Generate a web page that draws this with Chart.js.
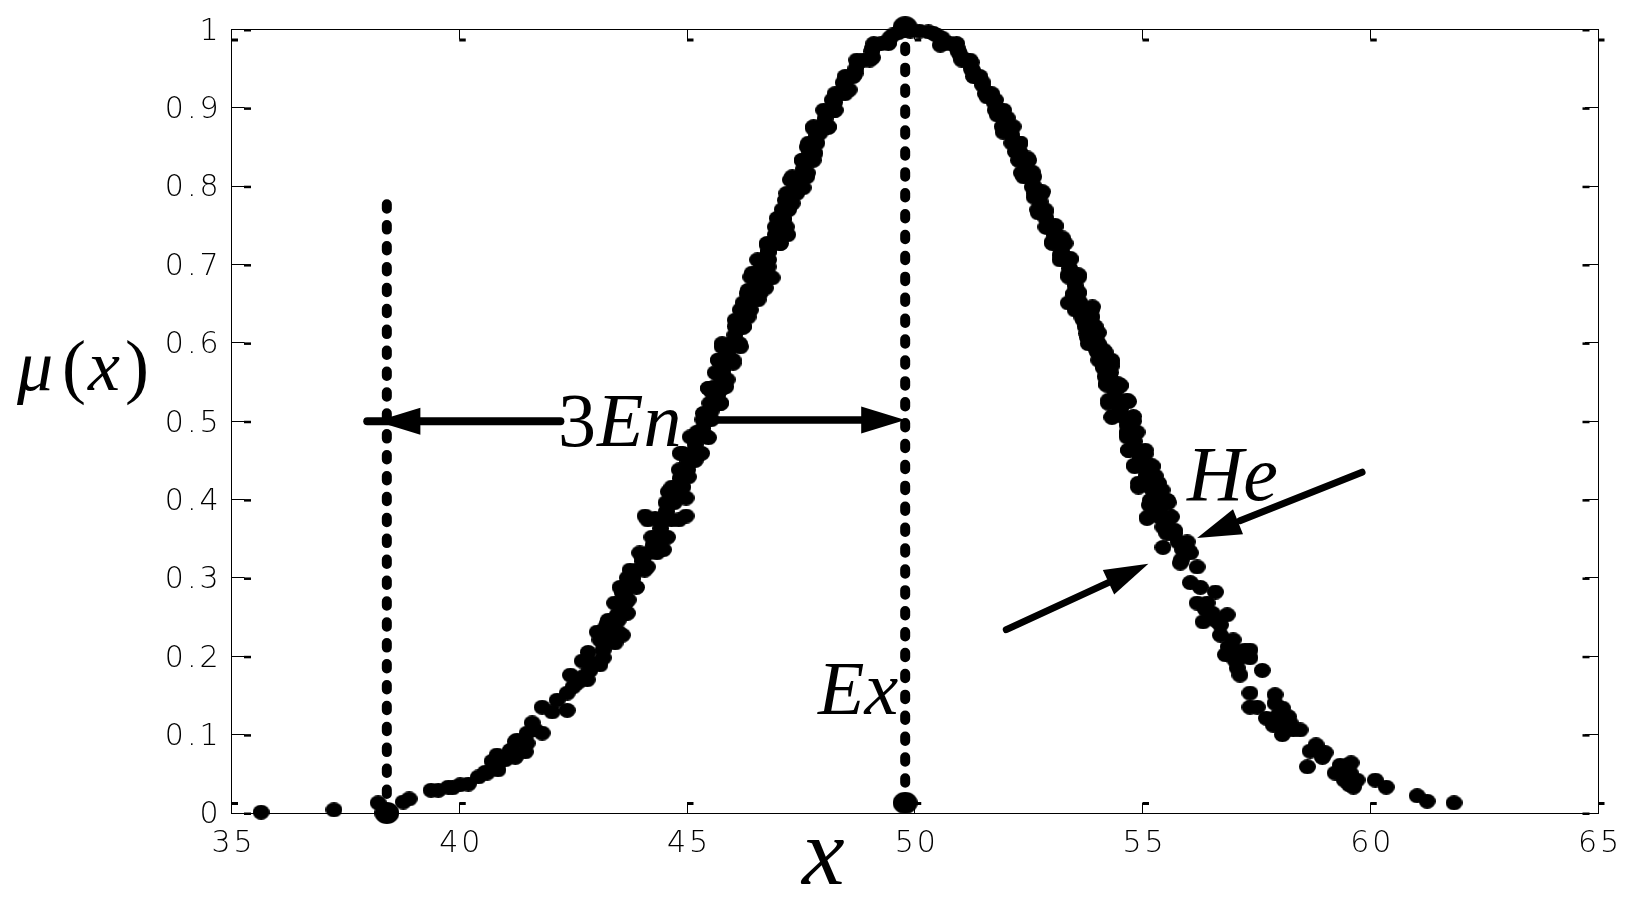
<!DOCTYPE html>
<html lang="en">
<head>
  <meta charset="UTF-8" />
  <title>Cloud model membership curve</title>
  <script src="https://cdn.jsdelivr.net/npm/chart.js"></script>
  <style>
    body { margin: 0; padding: 0; background: #fff; }
    canvas { display: block; }
  </style>
</head>
<body>
  <canvas id="cloudChart" width="1648" height="901"></canvas>

  <script>
    const xTickLabels = ['35', '40', '45', '50', '55', '60', '65'];
    const yTickLabels = ['0', '0.1', '0.2', '0.3', '0.4', '0.5', '0.6', '0.7', '0.8', '0.9', '1'];
    const xTickValues = [35, 40, 45, 50, 55, 60, 65];
    const yTickValues = [0, 0.1, 0.2, 0.3, 0.4, 0.5, 0.6, 0.7, 0.8, 0.9, 1];

    // cloud drops, left tail to right tail
    const lowerLeftDrops = [
      [35.65,.001],[37.25,.004],[38.22,.013],[38.77,.014],[38.90,.018],[39.38,.029],[39.54,.029],[39.76,.033],
      [39.85,.032],[40.02,.036],[40.20,.037],[40.42,.046],[40.57,.052],[40.72,.066],[40.83,.074],[40.85,.055],
      [41.01,.068],[41.12,.080],[41.27,.093],[41.45,.078],[41.23,.071],[41.23,.091],[41.49,.102],[41.60,.115],
      [41.82,.102],[41.82,.135],[42.04,.129],[42.37,.131],[42.15,.144],[42.37,.153],[42.44,.176],[42.81,.170],
      [42.70,.194],[42.83,.205],[43.09,.189],[43.16,.198],[43.03,.231],[43.25,.242],[43.58,.227],[43.42,.217],
      [43.16,.217],[43.31,.221],[43.47,.253],[43.69,.255],[43.58,.268],[43.71,.272],
      [43.60,.263],[43.49,.246],[43.27,.230],[43.16,.208],[42.94,.191],[42.72,.174],[42.50,.161],[41.67,.106],
      [41.49,.089],[41.18,.077],[40.85,.064],[40.61,.051],[43.09,.221],[43.36,.240],[42.87,.182],[42.61,.167],
      [43.49,.231],[43.20,.236]
    ];
    const midLeftDrops = [
      [43.27,.246],[43.58,.281],[43.69,.300],[44.02,.325],[44.08,.379],[44.59,.410],[44.85,.459],[45.22,.486],
      [45.36,.510],[45.55,.537],[45.77,.559],[43.64,.255],[44.13,.314],[44.48,.336],[44.57,.352],[44.98,.379],
      [44.98,.402],[45.03,.429],[45.18,.450],[45.47,.479],[45.73,.523],[45.88,.553],[43.53,.268],[43.91,.310],
      [44.37,.352],[44.63,.396],[44.92,.438],[45.25,.480],[45.62,.523],[45.79,.565],[43.71,.288],[44.15,.332],
      [44.48,.374],[44.79,.416],[45.11,.459],[45.44,.502],[45.73,.544],
      [43.62,.278],[43.81,.299],[44.03,.321],[44.26,.342],[44.42,.363],[44.55,.385],[44.71,.406],[44.85,.427],
      [45.02,.449],[45.18,.470],[45.35,.491],[45.53,.513],[45.68,.534],[45.76,.555],
      [43.41,.268],[43.65,.268],[43.53,.288],[43.89,.288],[43.75,.310],[44.07,.310],[43.96,.332],[44.34,.332],
      [44.23,.352],[44.51,.352],[44.14,.374],[44.82,.374],[44.54,.396],[44.72,.396],[44.67,.416],[44.91,.416],
      [44.83,.438],[45.01,.438],[44.90,.459],[45.32,.459],[45.07,.480],[45.43,.480],[45.35,.502],[45.53,.502],
      [45.50,.523],[45.74,.523],[45.61,.544],[45.85,.544],[44.30,.376],[44.66,.374]
    ];
    const upperLeftDrops = [
      [45.47,.542],[45.62,.562],[45.69,.578],[45.77,.595],[46.06,.629],[46.23,.651],[46.34,.667],[46.43,.689],
      [46.76,.725],[46.98,.759],[47.16,.782],[47.27,.808],[47.53,.833],[47.64,.850],[47.77,.874],[48.19,.910],
      [48.43,.932],[48.74,.957],[49.07,.976],[49.52,.993],[45.77,.542],[46.01,.574],[46.17,.595],[46.23,.620],
      [46.34,.633],[46.56,.655],[46.72,.670],[46.87,.683],[46.78,.697],[46.78,.716],[47.05,.727],[47.21,.738],
      [47.12,.757],[47.31,.778],[47.55,.798],[47.64,.817],[47.81,.842],[47.92,.868],[48.10,.875],[48.25,.897],
      [48.56,.923],[48.69,.944],[49.07,.964],[49.43,.984],[46.28,.642],[46.61,.693],[46.94,.738],[47.42,.808],
      [45.62,.542],[45.85,.578],[45.96,.599],[46.15,.621],[46.28,.642],[46.46,.663],[46.61,.684],[46.67,.706],
      [46.90,.727],[47.06,.748],[47.16,.770],[47.30,.791],[47.47,.812],[47.65,.833],[47.76,.855],[47.94,.876],
      [48.12,.897],[48.36,.918],[48.56,.940],[48.87,.961],[49.26,.982],[49.64,.996],
      [45.73,.560],[45.90,.588],[46.05,.610],[46.22,.632],[46.37,.652],[46.53,.673],[46.64,.695],[46.78,.716],
      [46.98,.737],[47.11,.759],[47.23,.780],[47.38,.801],[47.56,.822],[47.70,.844],[47.85,.865],[48.03,.886],
      [48.24,.907],[48.46,.929],[48.71,.950],[49.06,.972],[49.45,.989],[49.90,.998],[50.10,.998],
      [45.48,.542],[45.76,.542],[45.69,.578],[46.01,.578],[45.77,.599],[46.15,.599],[46.06,.621],[46.24,.621],
      [46.17,.642],[46.39,.642],[46.32,.663],[46.60,.663],[46.40,.684],[46.82,.684],[46.55,.706],[46.79,.706],
      [46.76,.727],[47.04,.727],[46.94,.748],[47.18,.748],[47.09,.770],[47.23,.770],[47.19,.791],[47.41,.791],
      [47.31,.812],[47.63,.812],[47.53,.833],[47.77,.833],[47.67,.855],[47.85,.855],[47.78,.876],[48.10,.876],
      [48.00,.897],[48.24,.897],[48.25,.918],[48.47,.918],[48.47,.940],[48.65,.940],[48.73,.961],[49.01,.961],
      [49.10,.982],[49.42,.982]
    ];
    const upperRightDrops = [
      [50.41,.995],[50.60,.989],[50.93,.976],[51.24,.958],[51.48,.933],[51.77,.910],[52.03,.887],[52.31,.855],
      [52.47,.836],[52.58,.818],[52.80,.793],[52.86,.767],[53.08,.750],[53.24,.734],[53.41,.708],[53.59,.687],
      [53.59,.665],[53.90,.646],[54.03,.613],[54.18,.588],[54.33,.574],[54.29,.562],[54.51,.546],[50.30,.997],
      [50.56,.980],[51.00,.967],[51.26,.948],[51.59,.914],[51.81,.891],[51.94,.869],[52.21,.844],[52.34,.817],
      [52.58,.799],[52.62,.786],[52.71,.766],[52.91,.747],[53.02,.729],[53.19,.712],[53.37,.687],[53.48,.661],
      [53.37,.651],[53.70,.636],[53.81,.606],[54.01,.588],[54.14,.568],[54.22,.546],
      [50.78,.982],[51.12,.961],[51.36,.940],[51.62,.918],[51.86,.897],[52.04,.876],[52.22,.855],[52.39,.833],
      [52.50,.812],[52.71,.791],[52.78,.770],[52.98,.748],[53.16,.727],[53.30,.706],[53.49,.684],[53.54,.663],
      [53.70,.642],[53.85,.621],[53.92,.599],[54.18,.578],[54.23,.557],
      [50.50,.992],[50.95,.972],[51.24,.950],[51.49,.929],[51.74,.907],[51.95,.886],[52.13,.865],[52.30,.844],
      [52.45,.822],[52.60,.801],[52.75,.780],[52.88,.759],[53.07,.737],[53.23,.716],[53.40,.695],[53.52,.673],
      [53.62,.652],[53.78,.631],[53.88,.610],[54.05,.588],[54.20,.567],
      [50.64,.982],[50.92,.982],[51.03,.961],[51.21,.961],[51.29,.940],[51.43,.940],[51.55,.918],[51.69,.918],
      [51.77,.897],[51.95,.897],[51.92,.876],[52.16,.876],[52.13,.855],[52.31,.855],[52.28,.833],[52.50,.833],
      [52.39,.812],[52.61,.812],[52.63,.791],[52.79,.791],[52.70,.770],[52.86,.770],[52.88,.748],[53.08,.748],
      [53.02,.727],[53.30,.727],[53.19,.706],[53.41,.706],[53.38,.684],[53.60,.684],[53.49,.663],[53.59,.663],
      [53.52,.642],[53.88,.642],[53.74,.621],[53.96,.621],[53.81,.599],[54.03,.599],[54.04,.578],[54.32,.578],
      [54.18,.557],[54.28,.557]
    ];
    const midRightDrops = [
      [53.70,.629],[53.79,.607],[54.25,.523],[54.33,.505],[54.66,.485],[54.69,.463],[54.82,.444],[54.91,.416],
      [55.15,.393],[55.10,.376],[55.45,.365],[55.45,.339],[55.85,.323],[54.51,.545],[54.69,.525],[54.80,.500],
      [54.88,.486],[55.06,.458],[55.21,.443],[55.28,.430],[55.43,.412],[55.56,.396],[55.63,.378],[55.70,.361],
      [55.98,.346],[56.05,.332],[56.20,.314],[54.36,.527],[54.66,.480],[54.95,.454],[55.17,.416],[55.39,.391],
      [55.61,.361],[54.51,.521],
      [53.78,.633],[53.89,.612],[54.07,.591],[54.23,.570],[54.33,.548],[54.46,.527],[54.57,.506],[54.75,.485],
      [54.88,.463],[55.02,.442],[55.13,.421],[55.36,.399],[55.37,.378],[55.62,.357],[55.94,.336],
      [53.83,.622],[53.98,.602],[54.15,.580],[54.28,.559],[54.40,.538],[54.52,.516],[54.66,.495],[54.82,.474],
      [54.95,.452],[55.08,.431],[55.25,.410],[55.37,.388],[55.50,.367],[55.78,.346],
      [53.67,.633],[53.89,.633],[53.78,.612],[54.00,.612],[54.00,.591],[54.14,.591],[54.15,.570],[54.31,.570],
      [54.20,.548],[54.46,.548],[54.26,.527],[54.66,.527],[54.34,.506],[54.80,.506],[54.66,.485],[54.84,.485],
      [54.70,.463],[55.06,.463],[54.83,.442],[55.21,.442],[54.91,.421],[55.35,.421],[55.17,.399],[55.55,.399],
      [55.12,.378],[55.62,.378],[55.53,.357],[55.71,.357],[55.88,.336],[56.00,.336]
    ];
    const lowerRightDrops = [
      [55.83,.319],[56.05,.294],[56.27,.288],[56.60,.282],[56.20,.268],[56.42,.268],[56.53,.255],[56.86,.253],
      [56.33,.244],[56.60,.246],[56.71,.227],[56.99,.221],[56.82,.202],[56.88,.212],[57.36,.208],[57.36,.198],
      [57.14,.198],[57.08,.185],[57.14,.176],[57.63,.182],[57.36,.153],[57.36,.135],[57.52,.135],[57.91,.151],
      [57.91,.140],[58.07,.134],[57.72,.121],[57.87,.112],[58.20,.123],[58.24,.115],[58.46,.106],[58.07,.100],
      [58.18,.108],[58.81,.087],[58.68,.079],[59.01,.077],[58.95,.071],[58.62,.059],[59.58,.064],[59.38,.057],
      [59.23,.051],[59.56,.051],[59.43,.042],[59.71,.042],[59.63,.033],[60.11,.042],[60.35,.033],[61.03,.022],
      [61.25,.015],[61.84,.013],
      [56.38,.260],[56.71,.240],[57.03,.208],[57.25,.208],[57.03,.195],[57.98,.125],[58.13,.119],[58.02,.112],
      [58.31,.106],[59.45,.048],[59.34,.061],[59.50,.061],[59.54,.036]
    ];
    const keyPoints = [[38.41,0],[49.79,1.003],[49.79,.013]];

    // dotted guides and arrow shafts
    const leftGuide = [[38.41,.777],[38.41,0]];
    const exGuide = [[49.79,.978],[49.79,.013]];
    const enShaftLeft = [[37.98,.5],[42.22,.5]];
    const enShaftRight = [[45.53,.5015],[49.0,.5015]];
    const heShaftUpper = [[59.82,.435],[57.14,.373]];
    const heShaftLower = [[52.01,.234],[54.25,.294]];
    // arrow heads: tail end of direction, then tip
    const arrowHeads = [
      [[42.22,.5],[38.18,.5]],
      [[45.53,.5015],[49.79,.5015]],
      [[59.82,.435],[56.20,.351]],
      [[52.01,.234],[55.13,.318]]
    ];

    const toXY = list => list.map(p => ({ x: p[0], y: p[1] }));

    function ellipseDot(w, h) {
      const c = document.createElement('canvas');
      c.width = w; c.height = h;
      const g = c.getContext('2d');
      g.fillStyle = '#000';
      g.beginPath();
      g.ellipse(w / 2, h / 2, w / 2, h / 2, 0, 0, Math.PI * 2);
      g.fill();
      return c;
    }
    const smallDot = ellipseDot(17, 15);
    const bigDot = ellipseDot(25, 22);

    function dropSet(list) {
      return { data: toXY(list), pointStyle: smallDot, pointRadius: 8, showLine: false, clip: false };
    }
    function guideSet(list) {
      return {
        data: toXY(list), showLine: true, pointRadius: 0, borderColor: '#000', borderWidth: 10,
        borderDash: [4.5, 16.4], borderCapStyle: 'round', clip: false
      };
    }
    function shaftSet(list, width) {
      return {
        data: toXY(list), showLine: true, pointRadius: 0, borderColor: '#000', borderWidth: width,
        borderCapStyle: 'round', clip: false
      };
    }

    // small blobs at the end of each inward tick, like the original figure
    const tickBlobs = {
      id: 'tickBlobs',
      beforeDraw(chart) {
        // the tick labels in the figure are set wide
        chart.ctx.letterSpacing = '3px';
      },
      beforeDatasetsDraw(chart) {
        const { ctx, chartArea: a, scales } = chart;
        ctx.save();
        ctx.fillStyle = '#000';
        xTickValues.forEach(v => {
          const px = scales.x.getPixelForValue(v);
          ctx.fillRect(px, a.top + 9, 6.5, 3);
          ctx.fillRect(px, a.bottom - 11, 6.5, 3);
        });
        yTickValues.forEach(v => {
          const py = scales.y.getPixelForValue(v);
          ctx.fillRect(a.left + 12.5, py - 0.5, 7, 2.5);
          ctx.fillRect(a.right - 15.5, py - 0.5, 7, 2.5);
        });
        ctx.restore();
      }
    };

    const arrowHeadPlugin = {
      id: 'arrowHeadPlugin',
      afterDatasetsDraw(chart) {
        const { ctx, scales } = chart;
        ctx.save();
        ctx.fillStyle = '#000';
        arrowHeads.forEach(([tail, tip]) => {
          const tx = scales.x.getPixelForValue(tip[0]), ty = scales.y.getPixelForValue(tip[1]);
          const ang = Math.atan2(ty - scales.y.getPixelForValue(tail[1]), tx - scales.x.getPixelForValue(tail[0]));
          ctx.save();
          ctx.translate(tx, ty);
          ctx.rotate(ang);
          ctx.beginPath();
          ctx.moveTo(0, 0);
          ctx.lineTo(-44, -13.5);
          ctx.lineTo(-44, 13.5);
          ctx.closePath();
          ctx.fill();
          ctx.restore();
        });
        ctx.restore();
      }
    };

    const serif = '"Liberation Serif", serif';
    const textRuns = [
      ['italic', 72, '\u03bc', 17, 390],
      ['normal', 72, '(', 62, 390],
      ['italic', 72, 'x', 88, 390],
      ['normal', 72, ')', 125, 390],
      ['normal', 76, '3', 558, 446],
      ['italic', 76, 'En', 597, 446],
      ['italic', 76, 'Ex', 818, 714],
      ['italic', 78, 'He', 1187, 500],
      ['italic', 96, 'x', 802, 884]
    ];
    const textLabels = {
      id: 'textLabels',
      afterDatasetsDraw(chart) {
        const ctx = chart.ctx;
        ctx.save();
        ctx.letterSpacing = '0px';
        ctx.fillStyle = '#000';
        ctx.textAlign = 'left';
        ctx.textBaseline = 'alphabetic';
        textRuns.forEach(([style, size, str, x, y]) => {
          ctx.font = style + ' ' + size + 'px ' + serif;
          ctx.fillText(str, x, y);
        });
        ctx.restore();
      }
    };

    const tickFont = { family: '"DejaVu Sans", sans-serif', size: 30, weight: 200 };
    const inwardGrid = { drawOnChartArea: false, drawTicks: true, tickLength: -13, tickColor: '#000', tickWidth: 1 };
    const inwardGridX = { drawOnChartArea: false, drawTicks: true, tickLength: -10, tickColor: '#000', tickWidth: 1 };
    const solidBorder = { display: true, color: '#000', width: 1 };
    // pin the plot box: no room reserved for labels hanging past the axes
    const fitHeight = h => scale => { scale.height = h; scale.paddingLeft = 0; scale.paddingRight = 0; };
    const fitWidth = w => scale => { scale.width = w; scale.paddingTop = 0; scale.paddingBottom = 0; };

    new Chart(document.getElementById('cloudChart').getContext('2d'), {
      type: 'scatter',
      data: {
        datasets: [
          guideSet(leftGuide),
          guideSet(exGuide),
          shaftSet(enShaftLeft, 8),
          shaftSet(enShaftRight, 7.5),
          shaftSet(heShaftUpper, 7),
          shaftSet(heShaftLower, 7),
          dropSet(lowerLeftDrops),
          dropSet(midLeftDrops),
          dropSet(upperLeftDrops),
          dropSet(upperRightDrops),
          dropSet(midRightDrops),
          dropSet(lowerRightDrops),
          { data: toXY(keyPoints), pointStyle: bigDot, pointRadius: 12, showLine: false, clip: false }
        ]
      },
      options: {
        responsive: false,
        animation: false,
        layout: { padding: 0 },
        plugins: { legend: { display: false }, tooltip: { enabled: false } },
        scales: {
          x: {
            type: 'linear', position: 'bottom', min: 35, max: 65,
            grid: inwardGridX, border: solidBorder, afterFit: fitHeight(88),
            ticks: {
              stepSize: 5, autoSkip: false, maxRotation: 0, padding: 23, labelOffset: 2, color: '#000', font: tickFont,
              callback: (v, i) => xTickLabels[i]
            }
          },
          x2: {
            type: 'linear', position: 'top', min: 35, max: 65,
            grid: inwardGridX, border: solidBorder, afterFit: fitHeight(29.5),
            ticks: { stepSize: 5, display: false }
          },
          y: {
            type: 'linear', position: 'left', min: 0, max: 1,
            grid: inwardGrid, border: solidBorder, afterFit: fitWidth(231.5),
            ticks: {
              stepSize: 0.1, autoSkip: false, padding: 23, labelOffset: 2.5, color: '#000', font: tickFont,
              callback: (v, i) => yTickLabels[i]
            }
          },
          y2: {
            type: 'linear', position: 'right', min: 0, max: 1,
            grid: inwardGrid, border: solidBorder, afterFit: fitWidth(50),
            ticks: { stepSize: 0.1, display: false }
          }
        }
      },
      plugins: [tickBlobs, arrowHeadPlugin, textLabels]
    });
  </script>
</body>
</html>
